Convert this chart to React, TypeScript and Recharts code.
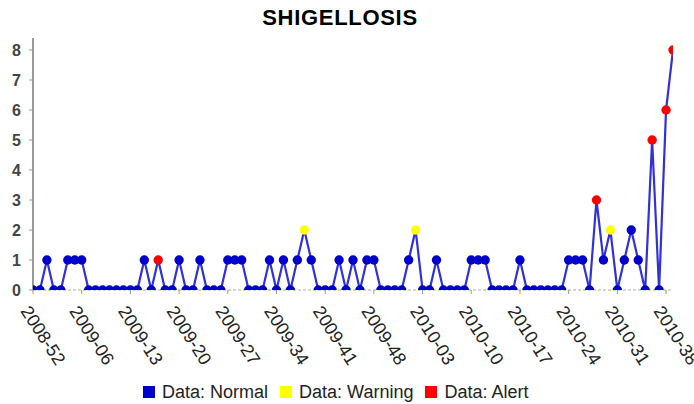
import React from 'react';
import * as Recharts from 'recharts';
import { LineChart, Line, XAxis, YAxis } from 'recharts';

const weeks = [
  '2008-52', '2008-53',
  '2009-01', '2009-02', '2009-03', '2009-04', '2009-05', '2009-06', '2009-07', '2009-08', '2009-09', '2009-10',
  '2009-11', '2009-12', '2009-13', '2009-14', '2009-15', '2009-16', '2009-17', '2009-18', '2009-19', '2009-20',
  '2009-21', '2009-22', '2009-23', '2009-24', '2009-25', '2009-26', '2009-27', '2009-28', '2009-29', '2009-30',
  '2009-31', '2009-32', '2009-33', '2009-34', '2009-35', '2009-36', '2009-37', '2009-38', '2009-39', '2009-40',
  '2009-41', '2009-42', '2009-43', '2009-44', '2009-45', '2009-46', '2009-47', '2009-48', '2009-49', '2009-50',
  '2009-51', '2009-52',
  '2010-01', '2010-02', '2010-03', '2010-04', '2010-05', '2010-06', '2010-07', '2010-08', '2010-09', '2010-10',
  '2010-11', '2010-12', '2010-13', '2010-14', '2010-15', '2010-16', '2010-17', '2010-18', '2010-19', '2010-20',
  '2010-21', '2010-22', '2010-23', '2010-24', '2010-25', '2010-26', '2010-27', '2010-28', '2010-29', '2010-30',
  '2010-31', '2010-32', '2010-33', '2010-34', '2010-35', '2010-36', '2010-37', '2010-38', '2010-39',
];

const cases = [
  0, 0, 1, 0, 0, 1, 1, 1, 0, 0,
  0, 0, 0, 0, 0, 0, 1, 0, 1, 0,
  0, 1, 0, 0, 1, 0, 0, 0, 1, 1,
  1, 0, 0, 0, 1, 0, 1, 0, 1, 2,
  1, 0, 0, 0, 1, 0, 1, 0, 1, 1,
  0, 0, 0, 0, 1, 2, 0, 0, 1, 0,
  0, 0, 0, 1, 1, 1, 0, 0, 0, 0,
  1, 0, 0, 0, 0, 0, 0, 1, 1, 1,
  0, 3, 1, 2, 0, 1, 2, 1, 0, 5,
  0, 6, 8,
];

const status = [
  'N', 'N', 'N', 'N', 'N', 'N', 'N', 'N', 'N', 'N',
  'N', 'N', 'N', 'N', 'N', 'N', 'N', 'N', 'A', 'N',
  'N', 'N', 'N', 'N', 'N', 'N', 'N', 'N', 'N', 'N',
  'N', 'N', 'N', 'N', 'N', 'N', 'N', 'N', 'N', 'W',
  'N', 'N', 'N', 'N', 'N', 'N', 'N', 'N', 'N', 'N',
  'N', 'N', 'N', 'N', 'N', 'W', 'N', 'N', 'N', 'N',
  'N', 'N', 'N', 'N', 'N', 'N', 'N', 'N', 'N', 'N',
  'N', 'N', 'N', 'N', 'N', 'N', 'N', 'N', 'N', 'N',
  'N', 'A', 'N', 'W', 'N', 'N', 'N', 'N', 'N', 'A',
  'N', 'A', 'A',
];

const yTicks = [0, 1, 2, 3, 4, 5, 6, 7, 8];
const legendKeys = ['N', 'W', 'A'];
const legendLabels = ['Data: Normal', 'Data: Warning', 'Data: Alert'];
const statusColors: Record<string, string> = { N: '#0000cc', W: '#ffff00', A: '#ff0000' };

const data = weeks.map((w, i) => ({ week: w, cases: cases[i], status: status[i] }));

const FONT = '"Liberation Sans", Arial, Helvetica, sans-serif';
const CLIP_ID = 'manualPlotClip';

const R: any = Recharts;
const usePlot: any = R.usePlotArea || R.useOffset || null;

function PlotClip() {
  const area = usePlot ? usePlot() : null;
  if (!area) return null;
  const x = area.x != null ? area.x : area.left;
  const y = area.y != null ? area.y : area.top;
  return (
    <defs>
      <clipPath id={CLIP_ID}>
        <rect x={x} y={y} width={area.width} height={area.height} />
      </clipPath>
    </defs>
  );
}

function XTick(props: any) {
  const { x, y, payload } = props;
  return (
    <text
      x={0}
      y={0}
      transform={`translate(${x - 13},${y + 17}) rotate(57)`}
      textAnchor="start"
      fontSize={18}
      fill="#222"
      fontFamily={FONT}
    >
      {payload.value}
    </text>
  );
}

function StatusDot(props: any) {
  const { cx, cy, payload, index } = props;
  if (cx == null || cy == null) return <g key={`d${index}`} />;
  return (
    <g key={`d${index}`} clipPath={usePlot ? `url(#${CLIP_ID})` : undefined}>
      <circle cx={cx} cy={cy} r={4.7} fill={statusColors[payload.status]} stroke="none" />
    </g>
  );
}

export default function App() {
  return (
    <div style={{ position: 'absolute', left: 0, top: 0, width: 694, height: 404, background: '#fff', fontFamily: FONT }}>
      <svg width={694} height={40} style={{ position: 'absolute', left: 0, top: 0 }}>
        <text x={340} y={25} textAnchor="middle" fontSize={22} fontWeight="bold" letterSpacing={0.7} fill="#000" fontFamily={FONT}>
          SHIGELLOSIS
        </text>
      </svg>
      <LineChart width={694} height={404} data={data} margin={{ top: 38, right: 21, left: 0, bottom: 24 }}>
        <PlotClip />
        <XAxis
          dataKey="week"
          interval={6}
          tick={<XTick />}
          tickSize={4}
          tickMargin={0}
          height={90}
          allowDataOverflow
          axisLine={{ stroke: '#aaa', strokeDasharray: '3 2' }}
          tickLine={{ stroke: '#999' }}
        />
        <YAxis
          width={33}
          domain={[0, 8.4]}
          allowDataOverflow
          ticks={yTicks}
          interval={0}
          tickSize={4}
          tickMargin={8}
          axisLine={{ stroke: '#999', strokeWidth: 2 }}
          tickLine={{ stroke: '#999' }}
          tick={{ fontSize: 16, fontWeight: 'bold', fill: '#444', fontFamily: FONT }}
        />
        <Line
          type="linear"
          dataKey="cases"
          stroke="#3030dd"
          strokeWidth={2.2}
          dot={StatusDot}
          activeDot={false}
          isAnimationActive={false}
        />
      </LineChart>
      <div
        style={{
          position: 'absolute',
          left: 143,
          top: 383,
          height: 18,
          display: 'flex',
          alignItems: 'center',
          fontSize: 18,
          lineHeight: '18px',
          color: '#222',
          fontFamily: FONT,
          whiteSpace: 'nowrap',
        }}
      >
        {legendKeys.map((k, i) => (
          <div key={k} style={{ display: 'flex', alignItems: 'center', marginRight: 12 }}>
            <div style={{ width: 12, height: 12, background: statusColors[k], marginRight: 7 }} />
            <span>{legendLabels[i]}</span>
          </div>
        ))}
      </div>
    </div>
  );
}
